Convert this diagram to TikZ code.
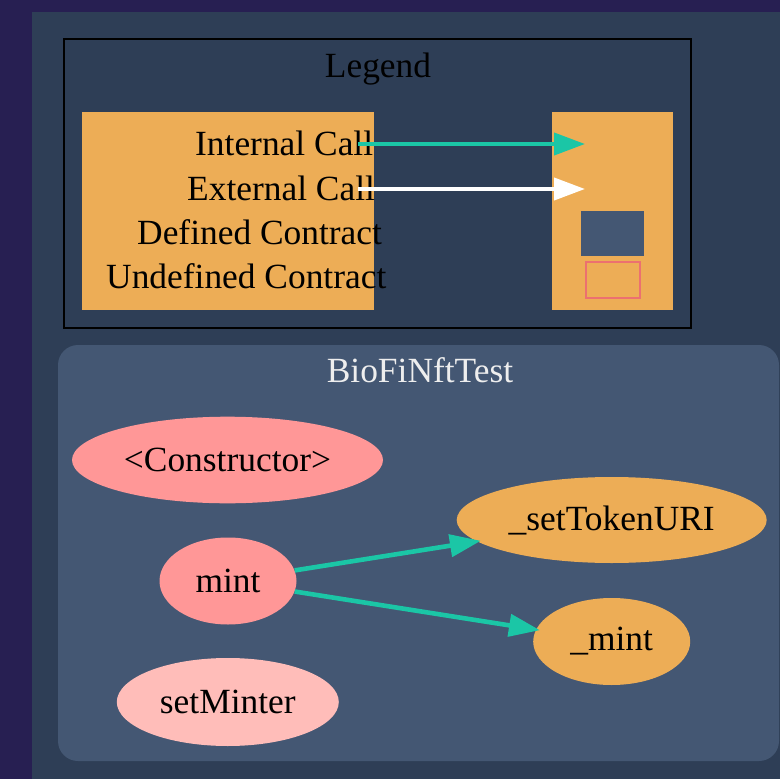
\documentclass[tikz,border=0pt]{standalone}
\usepackage{fontspec}
\setmainfont{Liberation Serif}
\usetikzlibrary{shapes.geometric,arrows.meta}
\definecolor{pagebg}{HTML}{271F52}
\definecolor{graphbg}{HTML}{2E3E56}
\definecolor{clusterbg}{HTML}{445773}
\definecolor{fnorange}{HTML}{EDAD56}
\definecolor{fnpublic}{HTML}{FF9797}
\definecolor{fnlight}{HTML}{FFBDB9}
\definecolor{callteal}{HTML}{1BC6A6}
\definecolor{undefred}{HTML}{EC7070}
\definecolor{titlegray}{HTML}{EEEEEE}

\begin{document}
\begin{tikzpicture}[x=1pt,y=-1pt,
  every node/.style={font=\fontsize{35.4}{40}\selectfont},
  fn/.style={ellipse, inner sep=0pt, text=black},
  keybox/.style={fill=fnorange, inner sep=0pt, anchor=north west},
  keytext/.style={anchor=base west, text=black, inner sep=0pt},
  call/.style={line width=4pt, -{Triangle[length=31pt,width=22pt]}},
  fncall/.style={call, line width=4.6pt, shorten >=-4pt},
]
\useasboundingbox (0,0) rectangle (780,779);
\fill[pagebg] (0,0) rectangle (780,779);
\fill[graphbg] (32,12) rectangle (780,779);

% legend
\draw[line width=2pt, black] (64,38.5) rectangle (691,328);
\node[anchor=base, text=black, inner sep=0pt] (legendtitle) at (378,77) {Legend};
\node[keybox, minimum width=292pt, minimum height=198pt] (keyleft) at (82,112) {};
\node[keybox, minimum width=121pt, minimum height=198pt] (keyright) at (552,112) {};
\node[keytext] (kint) at (195,155) {Internal Call};
\node[keytext] (kext) at (187,200) {External Call};
\node[keytext] (kdef) at (137,244) {Defined Contract};
\node[keytext] (kundef) at (106,288) {Undefined Contract};
\coordinate (intsrc) at (358,144);
\coordinate (intdst) at (585,144);
\coordinate (extsrc) at (358,189);
\coordinate (extdst) at (585,189);
\draw[call, callteal] (intsrc) -- (intdst);
\draw[call, white] (extsrc) -- (extdst);
\node[fill=clusterbg, inner sep=0pt, anchor=north west,
      minimum width=63pt, minimum height=45pt] (defbox) at (581,211) {};
\node[draw=undefred, line width=2pt, inner sep=0pt, anchor=north west,
      minimum width=54pt, minimum height=36pt] (undefbox) at (585,261) {};

% contract cluster
\fill[clusterbg, rounded corners=20pt] (58,345) rectangle (779,761);
\node[anchor=base, text=titlegray, inner sep=0pt] (clustertitle) at (420,382) {BioFiNftTest};

\node[fn, fill=fnpublic, minimum width=311pt, minimum height=86.6pt] (ctor) at (227.5,460) {\textless Constructor\textgreater};
\node[fn, fill=fnorange, minimum width=310pt, minimum height=86pt] (settoken) at (611.7,520) {\_setTokenURI};
\node[fn, fill=fnpublic, minimum width=137pt, minimum height=87pt] (mint) at (228,581) {mint};
\node[fn, fill=fnorange, minimum width=157pt, minimum height=87pt] (imint) at (611.7,641.5) {\_mint};
\node[fn, fill=fnlight, minimum width=222pt, minimum height=88pt] (setminter) at (227.8,702) {setMinter};

\draw[fncall, callteal] (mint) -- (settoken);
\draw[fncall, callteal] (mint) -- (imint);
\end{tikzpicture}
\end{document}
